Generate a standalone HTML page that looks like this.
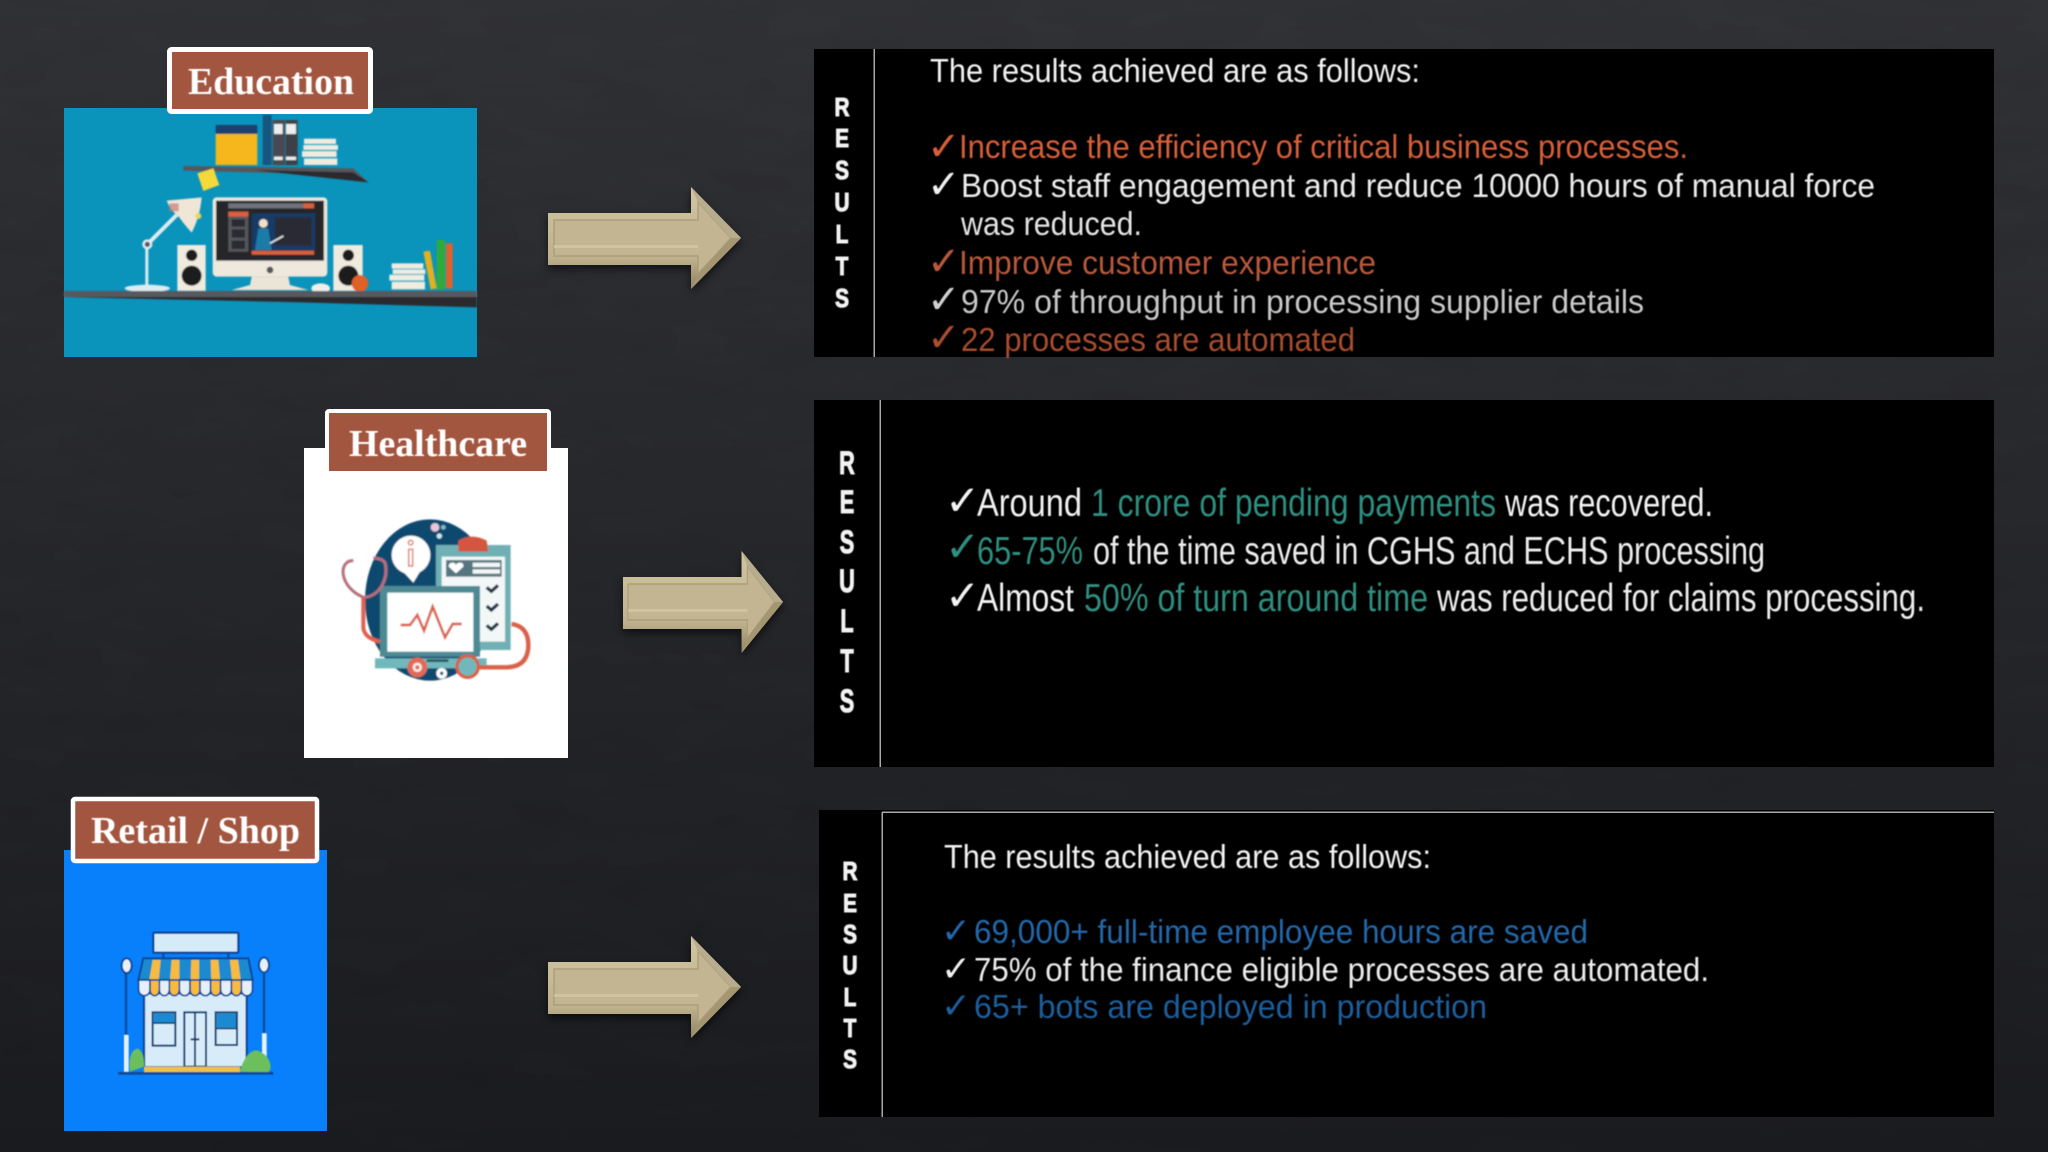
<!DOCTYPE html>
<html lang="en"><head><meta charset="utf-8"><title>Results</title>
<style>
html,body{margin:0;padding:0;background:#26272b}
svg{display:block}
.t{font-family:"Liberation Sans",sans-serif}
.l{font-family:"Liberation Serif",serif;font-weight:700;fill:#fff;font-size:38px}
.r{font-family:"Liberation Sans",sans-serif;font-weight:700;fill:#f2f2f2;stroke:#f2f2f2;stroke-width:1.1px;text-anchor:middle}
.c{font-family:"DejaVu Sans",sans-serif}
</style></head><body>
<svg width="2048" height="1152" viewBox="0 0 2048 1152" xmlns="http://www.w3.org/2000/svg">
<defs>
<linearGradient id="bg" x1="0" y1="0" x2="0" y2="1"><stop offset="0" stop-color="#313236"/><stop offset=".5" stop-color="#26272b"/><stop offset="1" stop-color="#1b1c20"/></linearGradient>
<linearGradient id="ag" x1="0" y1="0" x2="0" y2="1"><stop offset="0" stop-color="#d2c6a3"/><stop offset=".7" stop-color="#bfb18c"/><stop offset="1" stop-color="#8f8364"/></linearGradient>
<filter id="s" x="-10%" y="-20%" width="120%" height="150%"><feDropShadow dx="0" dy="4" stdDeviation="4" flood-color="#000" flood-opacity=".6"/></filter>
<filter id="b"><feGaussianBlur stdDeviation=".5"/></filter>
<filter id="b2"><feGaussianBlur stdDeviation=".9"/></filter>
<filter id="n" x="0" y="0" width="100%" height="100%"><feTurbulence type="fractalNoise" baseFrequency=".012 .03" numOctaves="3" seed="7"/><feColorMatrix values="0 0 0 0 0  0 0 0 0 0  0 0 0 0 0  .9 0 0 0 -.3"/></filter>
<g id="a">
<polygon points="0,26 143,26 143,0 193,51 143,102 143,78 0,78" fill="url(#ag)"/>
<polygon points="6,33 150,33 150,15 183,51 150,87 150,69 6,69" fill="#c3b591" stroke="#ad9f7b" stroke-width="1.500"/>
<polygon points="143,0 193,51 183,51 150,15" fill="#b8ac8e"/>
<polygon points="143,102 193,51 183,51 150,87" fill="#a3966f"/>
<rect x="6" y="58" width="144" height="3" fill="#d6caa6" opacity=".7"/>
</g>
</defs>
<rect width="2048" height="1152" fill="url(#bg)"/>
<rect width="2048" height="1152" filter="url(#n)" opacity=".09"/>

<!-- Education picture -->
<rect x="64" y="108" width="413" height="249" fill="#0a93bb"/>
<g filter="url(#b2)"><g transform="translate(120 110) scale(.33333)">
<rect x="287" y="72" width="125" height="93" fill="#f5b71a"/><rect x="287" y="45" width="125" height="27" fill="#1e3f6e"/>
<rect x="428" y="15" width="27" height="150" fill="#12567f"/><rect x="458" y="30" width="37" height="135" fill="#4a4a52"/><rect x="497" y="30" width="36" height="135" fill="#3e3f47"/>
<rect x="462" y="42" width="26" height="30" fill="#eee"/><rect x="498" y="42" width="30" height="30" fill="#eee"/><rect x="462" y="140" width="26" height="10" fill="#eee"/><rect x="498" y="140" width="30" height="10" fill="#eee"/>
<g fill="#f0ece0"><rect x="552" y="86" width="96" height="16"/><rect x="550" y="105" width="104" height="15"/><rect x="546" y="123" width="104" height="18"/><rect x="552" y="145" width="100" height="20"/></g>
<polygon points="190,168 700,175 745,217 500,190 190,182" fill="#57575c"/>
<polygon points="400,180 700,187 745,217" fill="#29292f"/>
<polygon points="232,190 280,175 298,225 250,243" fill="#f5d93a"/>
<ellipse cx="82" cy="535" rx="68" ry="11" fill="#dcecf0"/><rect x="76" y="412" width="9" height="115" fill="#dcecf0"/>
<line x1="82" y1="403" x2="170" y2="315" stroke="#dcecf0" stroke-width="12"/><circle cx="82" cy="403" r="15" fill="#e6eef0"/><circle cx="82" cy="403" r="8" fill="#556"/>
<path d="M140 272 L245 262 Q240 320 215 368 Q190 340 178 322 Q150 300 140 272Z" fill="#efe6d6"/><rect x="148" y="280" width="28" height="24" fill="#c77" opacity=".7"/><circle cx="235" cy="318" r="9" fill="#e5d85a"/>
<rect x="278" y="262" width="344" height="238" rx="12" fill="#efe8dc"/><rect x="288" y="272" width="324" height="180" fill="#26262c"/>
<rect x="325" y="280" width="225" height="15" fill="#70727a"/><rect x="550" y="280" width="32" height="15" fill="#d9603a"/>
<rect x="325" y="305" width="60" height="120" fill="#55565c"/><rect x="325" y="305" width="60" height="15" fill="#d9603a"/><rect x="335" y="328" width="40" height="22" fill="#2a2a30"/><rect x="335" y="358" width="40" height="25" fill="#2a2a30"/><rect x="335" y="392" width="40" height="25" fill="#2a2a30"/>
<rect x="395" y="310" width="190" height="110" fill="#123a66"/><rect x="465" y="322" width="110" height="85" fill="#2a2c34"/>
<circle cx="430" cy="340" r="13" fill="#f1e1c7"/><polygon points="415,355 445,355 455,420 405,420" fill="#1a7ca8"/><line x1="450" y1="400" x2="490" y2="378" stroke="#dfe9e9" stroke-width="5"/>
<rect x="395" y="422" width="187" height="12" fill="#d9603a"/>
<circle cx="450" cy="480" r="10" fill="#55565c"/>
<polygon points="395,500 505,500 510,525 565,540 335,540 390,525" fill="#ebe5d8"/>
<rect x="172" y="405" width="85" height="137" fill="#f0ebdf"/><circle cx="215" cy="436" r="17" fill="#1a1a1e"/><circle cx="215" cy="497" r="30" fill="#1a1a1e"/>
<rect x="640" y="405" width="88" height="137" fill="#f0ebdf"/><circle cx="685" cy="436" r="17" fill="#1a1a1e"/><circle cx="685" cy="497" r="30" fill="#1a1a1e"/>
<circle cx="720" cy="520" r="25" fill="#e0602c"/><ellipse cx="602" cy="535" rx="28" ry="15" fill="#edf0ea"/>
<g fill="#f0ece0"><rect x="815" y="460" width="95" height="16"/><rect x="818" y="478" width="98" height="14"/><rect x="808" y="494" width="105" height="18"/><rect x="815" y="515" width="100" height="23"/></g>
<polygon points="910,425 930,422 950,535 932,538" fill="#e0b020"/><rect x="950" y="390" width="25" height="148" fill="#2faa3c"/><rect x="978" y="400" width="20" height="135" fill="#e0602a"/>
<rect x="-168" y="543" width="1239" height="18" fill="#58585e"/>
<polygon points="-168,561 1071,561 1071,592 500,576" fill="#29292f"/>
</g></g>

<!-- Healthcare picture -->
<rect x="304" y="448" width="264" height="310" fill="#fff"/>
<g filter="url(#b2)"><g transform="translate(330 510) scale(.33333)">
<ellipse cx="300" cy="270" rx="195" ry="242" fill="#0f4a6e"/>
<circle cx="243" cy="135" r="58" fill="#fff"/><polygon points="215,180 270,185 250,218" fill="#fff"/>
<rect x="236" y="118" width="12" height="50" fill="#fff" stroke="#d9604a" stroke-width="4"/><circle cx="242" cy="98" r="7" fill="#fff" stroke="#d9604a" stroke-width="4"/>
<circle cx="315" cy="52" r="13" fill="#e8c7d8"/><circle cx="340" cy="52" r="7" fill="#7fb9c4"/><circle cx="328" cy="78" r="8" fill="#cfe6ee"/>
<rect x="318" y="105" width="224" height="315" fill="#6fb0b4"/><rect x="335" y="140" width="190" height="255" fill="#f3f7f7"/>
<rect x="348" y="150" width="167" height="50" fill="#55767e"/><rect x="428" y="158" width="82" height="13" fill="#f3f7f7"/><rect x="428" y="178" width="82" height="13" fill="#f3f7f7"/>
<path d="M378 190 L356 170 Q356 158 368 158 Q375 158 378 165 Q381 158 390 158 Q402 158 400 170 Z" fill="#fff"/>
<path d="M385 92 Q425 68 470 92 L475 125 L385 125Z" fill="#d5563f"/>
<g fill="none" stroke="#15323f" stroke-width="10"><path d="M470 232 L484 244 L504 226"/><path d="M470 288 L484 300 L504 282"/><path d="M470 346 L484 358 L504 340"/></g>
<rect x="150" y="228" width="300" height="212" fill="#4d8a94"/><rect x="172" y="248" width="258" height="177" fill="#fff"/>
<polyline points="212,345 240,345 262,315 282,362 308,290 345,382 368,342 395,342" fill="none" stroke="#d9604a" stroke-width="8"/>
<rect x="135" y="445" width="335" height="30" fill="#6fb8bb"/><rect x="290" y="448" width="65" height="8" fill="#27525f"/>
<path d="M450 472 H530 Q595 470 595 405 Q595 350 545 342" fill="none" stroke="#d9604a" stroke-width="13"/>
<circle cx="262" cy="472" r="30" fill="#e06a58"/><circle cx="262" cy="472" r="14" fill="#fbeee9"/><circle cx="262" cy="472" r="6" fill="#d9604a"/>
<circle cx="335" cy="490" r="16" fill="#fff"/><circle cx="335" cy="490" r="5" fill="#0f4a6e"/>
<circle cx="413" cy="470" r="32" fill="#6fb8bb" stroke="#d9604a" stroke-width="10"/>
<path d="M70 152 C25 150 25 230 100 262 C145 262 178 210 165 158 C152 142 130 145 130 145" fill="none" stroke="#b5707e" stroke-width="9"/>
<path d="M100 262 V355 Q105 385 150 395" fill="none" stroke="#e0604f" stroke-width="12"/>
</g></g>

<!-- Shop picture -->
<rect x="64" y="850" width="263" height="281" fill="#0880fb"/>
<g filter="url(#b)"><g transform="translate(50 780) scale(.33333)">
<path d="M340 515V540M535 515V540" stroke="#0a4a9a" stroke-width="7"/>
<rect x="310" y="458" width="255" height="60" rx="3" fill="#d5ebf8" stroke="#0a4a9a" stroke-width="7"/>
<rect x="282" y="640" width="308" height="222" fill="#d8ebf8" stroke="#0a4a9a" stroke-width="7"/>
<path d="M228 580V880M642 580V880" stroke="#0a4a9a" stroke-width="7"/>
<rect x="222" y="765" width="14" height="110" fill="#e6f2fb"/><rect x="636" y="760" width="14" height="70" fill="#e6f2fb"/>
<ellipse cx="230" cy="557" rx="15" ry="22" fill="#e6f2fb" stroke="#0a4a9a" stroke-width="6"/><ellipse cx="642" cy="555" rx="15" ry="22" fill="#e6f2fb" stroke="#0a4a9a" stroke-width="6"/>
<path d="M282 860L240 875C235 830 245 810 262 806C285 812 282 860 282 860Z" fill="#6cbf5c"/>
<path d="M570 875C580 830 610 800 630 815C665 830 670 875 650 878Z" fill="#6cbf5c"/>
<polygon points="280,535 595,535 608,600 265,600" fill="#1a8ad0" stroke="#0a4a9a" stroke-width="6"/>
<g fill="#f7bc3c"><polygon points="308,540 332,540 326,600 298,600"/><polygon points="365,540 388,540 388,600 360,600"/><polygon points="424,540 447,540 447,600 422,600"/><polygon points="482,540 505,540 510,600 484,600"/><polygon points="540,540 564,540 572,600 546,600"/></g>
<rect x="266" y="600" width="341" height="22" fill="#e5f1fa"/>
<g stroke="#0a4a9a" stroke-width="5">
<path fill="#e5f1fa" d="M266 600h34v30a17 17 0 0 1-34 0z"/><path fill="#f7bc3c" d="M300 600h28v30a14 17 0 0 1-28 0z"/><path fill="#e5f1fa" d="M328 600h30v30a15 17 0 0 1-30 0z"/><path fill="#f7bc3c" d="M358 600h30v30a15 17 0 0 1-30 0z"/><path fill="#e5f1fa" d="M388 600h32v30a16 17 0 0 1-32 0z"/><path fill="#f7bc3c" d="M420 600h30v30a15 17 0 0 1-30 0z"/><path fill="#e5f1fa" d="M450 600h32v30a16 17 0 0 1-32 0z"/><path fill="#f7bc3c" d="M482 600h30v30a15 17 0 0 1-30 0z"/><path fill="#e5f1fa" d="M512 600h32v30a16 17 0 0 1-32 0z"/><path fill="#f7bc3c" d="M544 600h30v30a15 17 0 0 1-30 0z"/><path fill="#e5f1fa" d="M574 600h33v30a16 17 0 0 1-33 0z"/>
</g>
<rect x="308" y="697" width="68" height="100" fill="#d8ebf8" stroke="#0f3f75" stroke-width="6"/><rect x="311" y="700" width="62" height="29" fill="#1a8ad0"/><rect x="308" y="727" width="68" height="5" fill="#0f3f75"/>
<rect x="497" y="697" width="64" height="98" fill="#d8ebf8" stroke="#0f3f75" stroke-width="6"/><rect x="500" y="700" width="58" height="43" fill="#1a8ad0"/><rect x="497" y="743" width="64" height="5" fill="#0f3f75"/>
<rect x="403" y="697" width="65" height="163" fill="#d8ebf8" stroke="#0f3f75" stroke-width="6"/><path d="M435 697V860M422 778H448" stroke="#0f3f75" stroke-width="6"/>
<rect x="282" y="860" width="288" height="16" fill="#f0c050"/>
<rect x="205" y="876" width="465" height="8" fill="#0a4a9a"/>
</g></g>

<!-- Labels -->
<rect x="169.500" y="49.500" width="201" height="62" rx="2" fill="#a3563f" stroke="#fff" stroke-width="5"/>
<rect x="327" y="411" width="222" height="60" rx="2" fill="#a3563f" stroke="#fff" stroke-width="4"/>
<rect x="329" y="413" width="218" height="58" fill="#a3563f"/>
<rect x="73" y="799" width="244" height="62" rx="2" fill="#a3563f" stroke="#fff" stroke-width="4.500"/>
<g filter="url(#b)">
<text class="l" x="188" y="94" textLength="166" lengthAdjust="spacingAndGlyphs">Education</text>
<text class="l" x="349" y="456" textLength="178" lengthAdjust="spacingAndGlyphs">Healthcare</text>
<text class="l" x="91" y="843" textLength="209" lengthAdjust="spacingAndGlyphs">Retail / Shop</text>
</g>

<!-- Arrows -->
<g filter="url(#s)">
<use href="#a" transform="translate(548 187)"/>
<use href="#a" transform="translate(623 551) scale(.829 1)"/>
<use href="#a" transform="translate(548 936)"/>
</g>

<!-- Panels -->
<rect x="814" y="49" width="1180" height="308" fill="#000"/>
<rect x="814" y="400" width="1180" height="367" fill="#000"/>
<rect x="819" y="810" width="1175" height="307" fill="#000"/>
<rect x="873.500" y="49" width="1.500" height="308" fill="#a8a8a8"/>
<rect x="879.500" y="400" width="1.500" height="367" fill="#a8a8a8"/>
<rect x="881.500" y="812" width="1.500" height="305" fill="#a8a8a8"/>
<rect x="882" y="811.500" width="1112" height="1.500" fill="#a8a8a8"/>

<g filter="url(#b)">
<!-- Panel letters -->
<g font-size="26">
<text class="r" x="0" y="116" transform="translate(842 0) scale(.8 1)">R</text><text class="r" x="0" y="147" transform="translate(842 0) scale(.8 1)">E</text><text class="r" x="0" y="179" transform="translate(842 0) scale(.8 1)">S</text><text class="r" x="0" y="211" transform="translate(842 0) scale(.8 1)">U</text><text class="r" x="0" y="243" transform="translate(842 0) scale(.8 1)">L</text><text class="r" x="0" y="275" transform="translate(842 0) scale(.8 1)">T</text><text class="r" x="0" y="307" transform="translate(842 0) scale(.8 1)">S</text>
<text class="r" x="0" y="880" transform="translate(850 0) scale(.8 1)">R</text><text class="r" x="0" y="912" transform="translate(850 0) scale(.8 1)">E</text><text class="r" x="0" y="943" transform="translate(850 0) scale(.8 1)">S</text><text class="r" x="0" y="974" transform="translate(850 0) scale(.8 1)">U</text><text class="r" x="0" y="1006" transform="translate(850 0) scale(.8 1)">L</text><text class="r" x="0" y="1037" transform="translate(850 0) scale(.8 1)">T</text><text class="r" x="0" y="1068" transform="translate(850 0) scale(.8 1)">S</text>
</g>
<g font-size="32">
<text class="r" x="0" y="474" transform="translate(847 0) scale(.68 1)">R</text><text class="r" x="0" y="513" transform="translate(847 0) scale(.68 1)">E</text><text class="r" x="0" y="553" transform="translate(847 0) scale(.68 1)">S</text><text class="r" x="0" y="592" transform="translate(847 0) scale(.68 1)">U</text><text class="r" x="0" y="632" transform="translate(847 0) scale(.68 1)">L</text><text class="r" x="0" y="672" transform="translate(847 0) scale(.68 1)">T</text><text class="r" x="0" y="712" transform="translate(847 0) scale(.68 1)">S</text>
</g>

<!-- Panel 1 -->
<g class="t" font-size="33">
<text x="930" y="82" fill="#f2f2f2" textLength="490" lengthAdjust="spacingAndGlyphs">The results achieved are as follows:</text>
<text x="959" y="158" fill="#d85f38" textLength="729" lengthAdjust="spacingAndGlyphs">Increase the efficiency of critical business processes.</text>
<text x="961" y="197" fill="#ececec" textLength="914" lengthAdjust="spacingAndGlyphs">Boost staff engagement and reduce 10000 hours of manual force</text>
<text x="961" y="235" fill="#e4e4e4" textLength="181" lengthAdjust="spacingAndGlyphs">was reduced.</text>
<text x="959" y="274" fill="#b9583a" textLength="417" lengthAdjust="spacingAndGlyphs">Improve customer experience</text>
<text x="961" y="313" fill="#c8c8c8" textLength="683" lengthAdjust="spacingAndGlyphs">97% of throughput in processing supplier details</text>
<text x="961" y="351" fill="#a84e2e" textLength="394" lengthAdjust="spacingAndGlyphs">22 processes are automated</text>
</g>
<g class="c" font-size="40">
<text x="927" y="160" fill="#d85f38">✓</text><text x="927" y="198" fill="#f0f0f0">✓</text><text x="927" y="275" fill="#b9583a">✓</text><text x="927" y="313" fill="#d0d0d0">✓</text><text x="927" y="351" fill="#a84e2e">✓</text>
</g>

<!-- Panel 2 -->
<g class="t" font-size="39">
<text x="977" y="516" fill="#f2f2f2" textLength="105" lengthAdjust="spacingAndGlyphs">Around</text>
<text x="1091" y="516" fill="#2f8f80" textLength="405" lengthAdjust="spacingAndGlyphs">1 crore of pending payments</text>
<text x="1505" y="516" fill="#f2f2f2" textLength="208" lengthAdjust="spacingAndGlyphs">was recovered.</text>
<text x="977" y="564" fill="#2f8f80" textLength="106" lengthAdjust="spacingAndGlyphs">65-75%</text>
<text x="1093" y="564" fill="#ececec" textLength="672" lengthAdjust="spacingAndGlyphs">of the time saved in CGHS and ECHS processing</text>
<text x="977" y="611" fill="#f2f2f2" textLength="97" lengthAdjust="spacingAndGlyphs">Almost</text>
<text x="1084" y="611" fill="#2f8f80" textLength="344" lengthAdjust="spacingAndGlyphs">50% of turn around time</text>
<text x="1437" y="611" fill="#ececec" textLength="488" lengthAdjust="spacingAndGlyphs">was reduced for claims processing.</text>
</g>
<g class="c" font-size="42">
<text x="945" y="515" fill="#f2f2f2">✓</text><text x="945" y="561" fill="#2f8f80">✓</text><text x="945" y="610" fill="#f2f2f2">✓</text>
</g>

<!-- Panel 3 -->
<g class="t" font-size="33">
<text x="944" y="868" fill="#f2f2f2" textLength="487" lengthAdjust="spacingAndGlyphs">The results achieved are as follows:</text>
<text x="974" y="943" fill="#2268aa" textLength="614" lengthAdjust="spacingAndGlyphs">69,000+ full-time employee hours are saved</text>
<text x="974" y="981" fill="#ececec" textLength="735" lengthAdjust="spacingAndGlyphs">75% of the finance eligible processes are automated.</text>
<text x="974" y="1018" fill="#1f5f9c" textLength="513" lengthAdjust="spacingAndGlyphs">65+ bots are deployed in production</text>
</g>
<g class="c" font-size="36">
<text x="941" y="943" fill="#2268aa">✓</text><text x="941" y="981" fill="#f0f0f0">✓</text><text x="941" y="1018" fill="#1f5f9c">✓</text>
</g>
</g>
</svg>
</body></html>
